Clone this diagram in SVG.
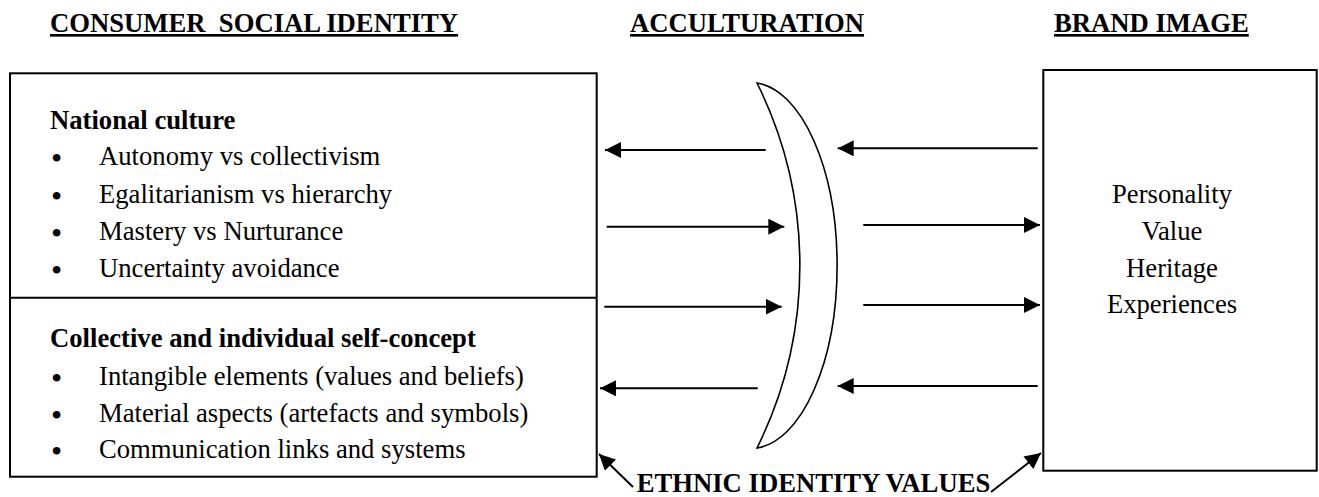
<svg xmlns="http://www.w3.org/2000/svg" width="1319" height="497" viewBox="0 0 1319 497">
<defs>
<style>
.t{font-family:"Liberation Serif","Times New Roman",serif;font-size:26.67px;fill:#000}
.b{font-weight:bold}
.h{font-weight:bold;text-decoration:underline}
.bu{font-family:"Liberation Serif","Times New Roman",serif;font-size:32px;fill:#000}
.box{fill:#fff;stroke:#000;stroke-width:2}
.ln{stroke:#000;stroke-width:2;fill:none}
</style>
<marker id="ah" viewBox="0 0 16 16" refX="16" refY="8" markerWidth="16" markerHeight="16" markerUnits="userSpaceOnUse" orient="auto">
<path d="M0,0 L16,8 L0,16 Z" fill="#000"/>
</marker>
</defs>
<rect width="1319" height="497" fill="#fff"/>
<g id="headings">
<text class="t h" x="50" y="32" xml:space="preserve">CONSUMER  SOCIAL IDENTITY</text>
<text class="t h" x="630" y="32">ACCULTURATION</text>
<text class="t h" x="1054" y="32">BRAND IMAGE</text>
</g>
<g id="consumer-social-identity">
<rect class="box" x="10" y="73.3" width="586.7" height="403.4"/>
<line class="ln" x1="10" y1="297.7" x2="596.7" y2="297.7"/>
<text class="t b" x="50" y="129">National culture</text>
<g class="bu" text-anchor="middle">
<text x="56.7" y="169">•</text><text x="56.7" y="207">•</text><text x="56.7" y="244">•</text><text x="56.7" y="281">•</text>
<text x="56.7" y="389">•</text><text x="56.7" y="426">•</text><text x="56.7" y="462">•</text>
</g>
<text class="t" x="99" y="165">Autonomy vs collectivism</text>
<text class="t" x="99" y="203">Egalitarianism vs hierarchy</text>
<text class="t" x="99" y="240">Mastery vs Nurturance</text>
<text class="t" x="99" y="277">Uncertainty avoidance</text>
<text class="t b" x="50" y="347">Collective and individual self-concept</text>
<text class="t" x="99" y="385">Intangible elements (values and beliefs)</text>
<text class="t" x="99" y="422">Material aspects (artefacts and symbols)</text>
<text class="t" x="99" y="458">Communication links and systems</text>
</g>
<g id="acculturation">
<path d="M757,83 A86.5,183 0 0 1 757,448 A410,410 0 0 0 757,83 Z" fill="#fff" stroke="#000" stroke-width="1.6"/>
</g>
<g id="brand-image">
<rect class="box" x="1043.3" y="70" width="273.4" height="400.7"/>
<g class="t" text-anchor="middle">
<text x="1172" y="203">Personality</text>
<text x="1172" y="240">Value</text>
<text x="1172" y="277">Heritage</text>
<text x="1172" y="313">Experiences</text>
</g>
</g>
<g id="ethnic-identity-values">
<text class="t b" x="636.7" y="492">ETHNIC IDENTITY VALUES</text>
</g>
<g id="connectors" class="ln" marker-end="url(#ah)">
<line x1="765.7" y1="150" x2="605" y2="150"/>
<line x1="1037.7" y1="148.3" x2="837.7" y2="148.3"/>
<line x1="606.7" y1="226.7" x2="784.3" y2="226.7"/>
<line x1="863.3" y1="225" x2="1040" y2="225"/>
<line x1="604.3" y1="306.7" x2="781.7" y2="306.7"/>
<line x1="863.3" y1="305" x2="1040" y2="305"/>
<line x1="757.7" y1="388.3" x2="600" y2="388.3"/>
<line x1="1037.7" y1="386" x2="837.7" y2="386"/>
<line x1="633" y1="487" x2="599" y2="454"/>
<line x1="991" y1="492" x2="1041" y2="453"/>
</g>
</svg>
